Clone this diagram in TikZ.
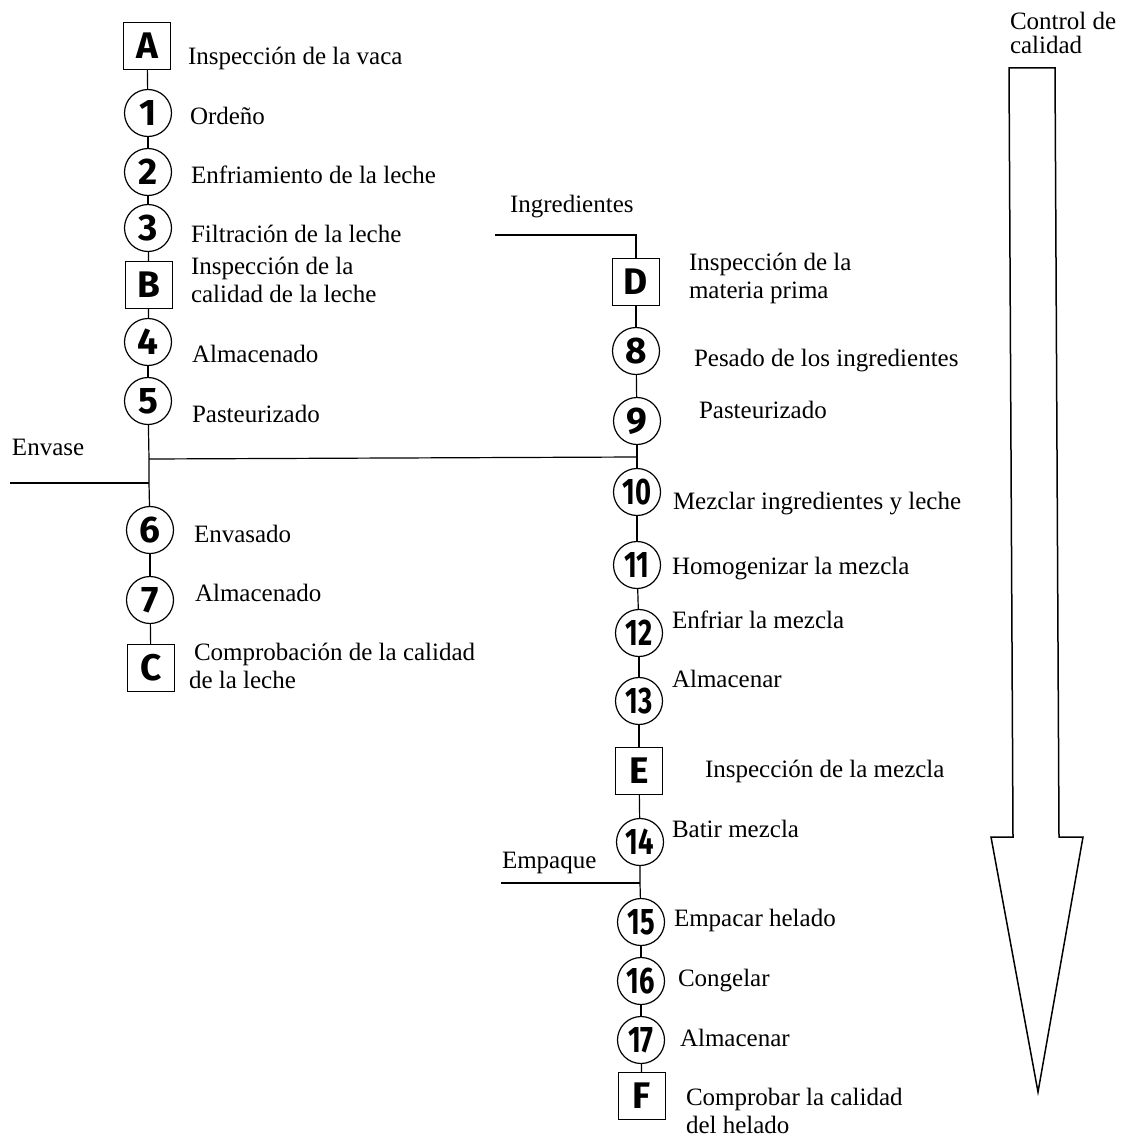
\documentclass[tikz,border=0pt]{standalone}
\usepackage{fontspec}
\usepackage{graphicx}
\setmainfont{Liberation Serif}
\newfontfamily\handfont{Fira Sans}
\newcommand{\twod}[1]{\scalebox{0.74}[1]{#1}}
\begin{document}
\begin{tikzpicture}[x=1pt,y=-1pt,
  every node/.style={inner sep=0pt,outer sep=0pt},
  op/.style={draw,circle,minimum size=47pt,line width=1.2pt,
    font=\handfont\bfseries\fontsize{37}{37}\selectfont},
  insp/.style={draw,rectangle,minimum size=47pt,line width=1.2pt,
    font=\handfont\bfseries\fontsize{37}{37}\selectfont},
  lbl/.style={anchor=base west,align=left,font=\fontsize{25}{28}\selectfont},
  ln/.style={line width=1.2pt},
  bigarrow/.style={line width=1.5pt,line join=miter}]
\useasboundingbox (0,0) rectangle (1132,1140);

% ---- left column
\node[insp] (A) at (147,46) {A};
\node[op] (n1) at (148,113) {1};
\node[op] (n2) at (148,172) {2};
\node[op] (n3) at (148,228) {3};
\node[insp] (B) at (149,285) {B};
\node[op] (n4) at (148,342) {4};
\node[op] (n5) at (148,401) {5};
\node[op] (n6) at (150,530) {6};
\node[op] (n7) at (150,600) {7};
\node[insp] (C) at (151,668) {C};

% ---- right column
\node[insp] (D) at (636,282) {D};
\node[op] (n8) at (636,351) {8};
\node[op] (n9) at (637,421) {9};
\node[op] (n10) at (637,492) {\twod{10}};
\node[op] (n11) at (637,565) {\twod{11}};
\node[op] (n12) at (639,633) {\twod{12}};
\node[op] (n13) at (639,701) {\twod{13}};
\node[insp] (E) at (639,771) {E};
\node[op] (n14) at (640,842) {\twod{14}};
\node[op] (n15) at (641,922) {\twod{15}};
\node[op] (n16) at (641,981) {\twod{16}};
\node[op] (n17) at (641,1040) {\twod{17}};
\node[insp] (F) at (642,1096) {F};

% ---- junction coordinates
\coordinate (j1) at (149,459);
\coordinate (j2) at (149,483);
\coordinate (env) at (10,483);
\coordinate (j3) at (637,457);
\coordinate (ing) at (495,235);
\coordinate (j4) at (640,883);
\coordinate (emp) at (501,883);

% ---- connectors left
\draw[ln] (A) -- (n1);
\draw[ln] (n1) -- (n2);
\draw[ln] (n2) -- (n3);
\draw[ln] (n3) -- (B);
\draw[ln] (B) -- (n4);
\draw[ln] (n4) -- (n5);
\draw[ln] (n5) -- (j1) -- (j2) -- (n6);
\draw[ln] (env) -- (j2);
\draw[ln] (n6) -- (n7);
\draw[ln] (n7) -- (C);
\draw[ln] (j1) -- (j3);

% ---- connectors right
\draw[ln] (ing) -| (D);
\draw[ln] (D) -- (n8);
\draw[ln] (n8) -- (n9);
\draw[ln] (n9) -- (j3) -- (n10);
\draw[ln] (n10) -- (n11);
\draw[ln] (n11) -- (n12);
\draw[ln] (n12) -- (n13);
\draw[ln] (n13) -- (E);
\draw[ln] (E) -- (n14);
\draw[ln] (n14) -- (j4) -- (n15);
\draw[ln] (emp) -- (j4);
\draw[ln] (n15) -- (n16);
\draw[ln] (n16) -- (n17);
\draw[ln] (n17) -- (F);

% ---- labels left (multi-line labels: base = last line)
\node[lbl] (la) at (188,64) {Inspección de la vaca};
\node[lbl] (l1) at (190,124) {Ordeño};
\node[lbl] (l2) at (191,183) {Enfriamiento de la leche};
\node[lbl] (l3) at (191,242) {Filtración de la leche};
\node[lbl] (lB) at (191,302) {Inspección de la\\calidad de la leche};
\node[lbl] (l4) at (192,362) {Almacenado};
\node[lbl] (l5) at (192,422) {Pasteurizado};
\node[lbl] (lenv) at (12,455) {Envase};
\node[lbl] (l6) at (194,542) {Envasado};
\node[lbl] (l7) at (195,601) {Almacenado};
\node[lbl] (lC) at (189,688) {\hspace*{5pt}Comprobación de la calidad\\de la leche};

% ---- labels right
\node[lbl] (ling) at (510,212) {Ingredientes};
\node[lbl] (lD) at (689,298) {Inspección de la\\materia prima};
\node[lbl] (l8) at (694,366) {Pesado de los ingredientes};
\node[lbl] (l9) at (699,418) {Pasteurizado};
\node[lbl] (l10) at (673,509) {Mezclar ingredientes y leche};
\node[lbl] (l11) at (672,574) {Homogenizar la mezcla};
\node[lbl] (l12) at (672,628) {Enfriar la mezcla};
\node[lbl] (l13) at (672,687) {Almacenar};
\node[lbl] (lE) at (705,777) {Inspección de la mezcla};
\node[lbl] (l14) at (672,837) {Batir mezcla};
\node[lbl] (lemp) at (502,868) {Empaque};
\node[lbl] (l15) at (674,926) {Empacar helado};
\node[lbl] (l16) at (678,986) {Congelar};
\node[lbl] (l17) at (680,1046) {Almacenar};
\node[lbl] (lF) at (686,1133) {Comprobar la calidad\\del helado};

% ---- quality-control arrow
\node[lbl,font=\fontsize{25}{24}\selectfont] (lq) at (1010,53) {Control de\\calidad};
\draw[bigarrow] (1009,68) -- (1055,68) -- (1059,837) -- (1083,837)
  -- (1038,1092) -- (991,837) -- (1013,837) -- cycle;
\end{tikzpicture}
\end{document}
